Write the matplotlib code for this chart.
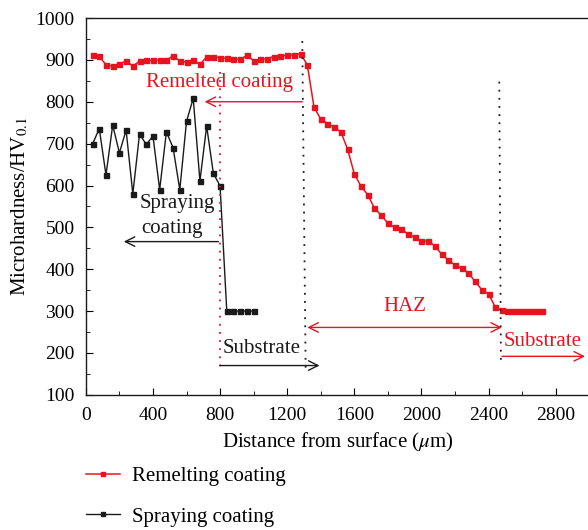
import numpy as np
import matplotlib.pyplot as plt
from matplotlib.ticker import MultipleLocator

plt.rcParams['font.family'] = ['Liberation Serif', 'DejaVu Serif']
plt.rcParams['mathtext.fontset'] = 'stix'

RED = '#e8131f'
BLACK = '#1a1a1a'

# remelting coating (red)
remelt_x = [40, 80, 120, 160, 200, 240, 280, 320, 360, 400, 440, 480, 520, 560,
            600, 640, 680, 720, 760, 800, 840, 880, 920, 960, 1000, 1040, 1080,
            1120, 1160, 1200, 1240, 1280, 1320, 1360, 1400, 1440, 1480, 1520,
            1560, 1600, 1640, 1680, 1720, 1760, 1800, 1840, 1880, 1920, 1960,
            2000, 2040, 2080, 2120, 2160, 2200, 2240, 2280, 2320, 2360, 2400,
            2440, 2480, 2510, 2540, 2570, 2600, 2630, 2660, 2690, 2720]
remelt_y = [912, 909, 888, 885, 889, 898, 885, 897, 899, 899, 900, 899, 910, 897,
            895, 899, 889, 907, 908, 905, 904, 903, 901, 911, 898, 901, 903,
            908, 909, 911, 912, 915, 888, 787, 759, 748, 739, 728,
            687, 628, 598, 578, 546, 529, 510, 500, 496, 484, 477,
            467, 467, 456, 436, 422, 410, 402, 391, 371, 351, 341,
            310, 302, 300, 300, 300, 300, 300, 300, 300, 300]

# spraying coating (black)
spray_x = [40, 80, 120, 160, 200, 240, 280, 320, 360, 400, 440, 480, 520, 560,
           600, 640, 680, 720, 760, 800, 840, 880, 920, 960, 1000]
spray_y = [699, 736, 625, 744, 678, 732, 580, 723, 698, 718, 590, 728, 690, 590,
           753, 808, 611, 742, 629, 599, 300, 300, 300, 300, 300]

fig = plt.figure(figsize=(5.88, 5.30), dpi=100)
ax = fig.add_axes([0.146, 0.255, 0.856, 0.711])

ax.plot(remelt_x, remelt_y, '-s', color=RED, lw=1.1, ms=3.6, label='Remelting coating')
ax.plot(spray_x, spray_y, '-s', color=BLACK, lw=1.0, ms=3.6, label='Spraying coating')

# boundary lines
dots = (0, (1, 3.5))
ax.plot([800, 800], [870, 165], color=RED, lw=1.3, linestyle=dots)
ax.plot([1290, 1310], [945, 165], color=BLACK, lw=1.3, linestyle=dots)
ax.plot([2464, 2474], [848, 175], color=BLACK, lw=1.3, linestyle=dots)

arrow_kw = dict(arrowstyle='->', mutation_scale=17, lw=1.0, shrinkA=0, shrinkB=0)
fs = 15

ax.annotate('', xy=(708, 800), xytext=(1290, 800),
            arrowprops=dict(color=RED, **arrow_kw))
ax.text(795, 845, 'Remelted coating', color=RED, fontsize=fs, ha='center', va='center')

ax.annotate('', xy=(226, 466), xytext=(790, 466),
            arrowprops=dict(color=BLACK, **arrow_kw))
ax.text(318, 556, 'Spraying', color=BLACK, fontsize=fs, ha='left', va='center')
ax.text(328, 498, 'coating', color=BLACK, fontsize=fs, ha='left', va='center')

ax.annotate('', xy=(1393, 170), xytext=(800, 170),
            arrowprops=dict(color=BLACK, **arrow_kw))
ax.text(815, 210, 'Substrate', color=BLACK, fontsize=fs, ha='left', va='center')

ax.annotate('', xy=(2480, 261), xytext=(1320, 261),
            arrowprops=dict(arrowstyle='<->', mutation_scale=17, lw=1.0,
                            shrinkA=0, shrinkB=0, color=RED))
ax.text(1904, 310, 'HAZ', color=RED, fontsize=fs, ha='center', va='center')

ax.annotate('', xy=(2975, 192), xytext=(2480, 192),
            arrowprops=dict(color=RED, **arrow_kw))
ax.text(2490, 228, 'Substrate', color=RED, fontsize=fs, ha='left', va='center')

ax.set_xlim(0, 3000)
ax.set_ylim(100, 1000)
ax.xaxis.set_major_locator(MultipleLocator(400))
ax.xaxis.set_minor_locator(MultipleLocator(200))
ax.yaxis.set_major_locator(MultipleLocator(100))
ax.yaxis.set_minor_locator(MultipleLocator(50))
ax.tick_params(which='both', direction='in', labelsize=14, top=False, right=False)
ax.tick_params(which='major', length=5)
ax.tick_params(which='minor', length=3)
ax.tick_params(axis='x', which='major', pad=9)
ax.tick_params(axis='y', which='major', pad=8)
for s in ax.spines.values():
    s.set_linewidth(1.0)
    s.set_color(BLACK)
ax.spines['right'].set_visible(False)

ax.set_xlabel(r'Distance from surface ($\mathit{\mu}$m)', fontsize=fs, labelpad=5)
ax.set_ylabel(r'Microhardness/HV$_{0.1}$', fontsize=fs, labelpad=4)

fig.legend(loc='upper left', bbox_to_anchor=(0.115, 0.155), frameon=False,
           fontsize=fs, handlelength=1.6, labelspacing=1.0, handletextpad=0.6,
           markerscale=0.8)

fig.savefig('out.png', dpi=100)
